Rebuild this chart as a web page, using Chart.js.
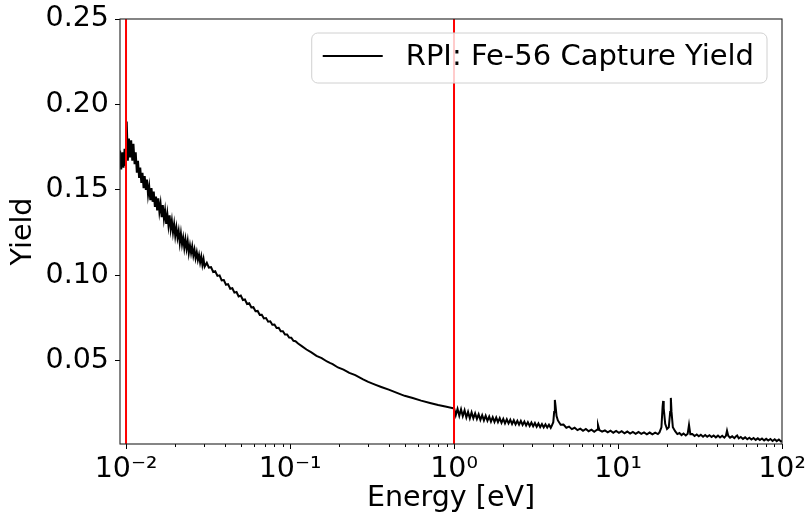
<!DOCTYPE html>
<html><head><meta charset="utf-8">
<script src="https://cdn.jsdelivr.net/npm/chart.js@4"></script>
<style>html,body{margin:0;padding:0;background:#fff}canvas{display:block}</style>
</head><body>
<canvas id="c" width="811" height="516"></canvas>
<script>
// ---- data (energy in eV, capture yield) ----
const energy = [
 0.00920,0.00935,0.00950,0.00965,0.00980,0.00995,0.01010,0.01026,0.01042,0.01058,
 0.01075,0.01092,0.01110,0.01128,0.01146,0.01164,0.01183,0.01202,0.01221,0.01240,
 0.01260,0.01280,0.01300,0.01321,0.01342,0.01363,0.01385,0.01407,0.01430,0.01453,
 0.01476,0.01500,0.01524,0.01548,0.01573,0.01598,0.01624,0.01650,0.01676,0.01703,
 0.01730,0.01758,0.01786,0.01815,0.01844,0.01873,0.01903,0.01934,0.01965,0.01996,
 0.02028,0.02061,0.02094,0.02127,0.02161,0.02196,0.02231,0.02267,0.02303,0.02340,
 0.02377,0.02415,0.02454,0.02493,0.02533,0.02574,0.02615,0.02657,0.02700,0.02743,
 0.02787,0.02831,0.02877,0.02923,0.02970,0.03017,
 0.0311,0.0320,0.0330,0.0340,0.0350,0.0361,0.0372,0.0383,0.0395,0.0407,0.0419,0.0432,
 0.0445,0.0458,0.0472,0.0486,0.0501,0.0516,0.0531,0.0547,0.0564,0.0581,0.0598,0.0616,
 0.0635,0.0654,0.0673,0.0693,0.0714,0.0736,0.0758,0.0780,0.0804,0.0828,0.0853,0.0878,
 0.0905,0.0932,0.0960,0.0988,0.1018,0.1049,0.1080,
 0.112,0.118,0.126,0.135,0.145,0.156,0.168,0.175,0.182,0.196,0.212,0.230,0.250,0.279,
 0.300,0.330,0.360,0.400,0.449,0.500,0.560,0.630,0.714,0.800,0.900,0.986,
 1.000,1.025,1.051,1.077,1.104,1.131,1.160,1.189,1.218,1.249,1.280,1.312,1.345,1.379,
 1.413,1.448,1.485,1.522,1.560,1.599,1.639,1.680,1.722,1.765,1.809,1.854,1.900,1.948,
 1.997,2.046,2.098,2.150,2.204,2.259,2.315,2.373,2.433,2.493,2.556,2.620,2.685,2.752,
 2.821,2.892,2.964,3.038,3.114,3.192,3.272,3.353,3.437,3.523,3.611,3.701,3.794,3.889,
 3.95,4.03,4.08,4.12,4.16,4.22,
 4.30,4.47,4.65,4.84,5.03,5.23,5.44,5.66,5.89,6.12,6.37,6.62,6.89,7.16,7.45,7.55,7.70,
 8.00,8.32,8.66,9.00,9.36,9.74,10.13,10.53,10.95,11.39,11.85,12.32,12.81,13.33,13.86,
 14.41,14.99,15.59,16.21,16.86,17.5,17.9,18.4,18.7,18.85,19.0,19.4,19.9,20.4,20.8,21.0,
 21.2,21.6,
 22.3,23.0,23.7,24.4,25.1,25.9,26.6,27.1,27.6,28.4,29.3,30.2,31.1,32.0,33.0,34.0,35.0,
 36.1,37.2,38.3,39.5,40.7,41.9,43.2,44.5,45.5,46.2,47.0,48.2,49.7,51.2,52.5,53.3,54.5,
 56.1,57.8,59.6,61.4,63.2,65.1,67.1,69.1,71.2,73.3,75.5,77.8,80.1,82.5,85.0,87.6,90.2,
 92.9,95.7,98.6,100
];
const yieldVals = [
 0.173,0.162,0.172,0.163,0.174,0.164,0.190,0.167,0.180,0.169,
 0.179,0.167,0.177,0.165,0.172,0.160,0.167,0.157,0.163,0.154,
 0.160,0.151,0.158,0.150,0.156,0.147,0.152,0.144,0.151,0.143,
 0.149,0.140,0.146,0.138,0.145,0.137,0.142,0.134,0.141,0.133,
 0.138,0.130,0.136,0.129,0.135,0.127,0.132,0.125,0.130,0.123,
 0.128,0.122,0.126,0.119,0.1245,0.118,0.122,0.116,0.121,0.1155,
 0.120,0.113,0.1175,0.113,0.117,0.1115,0.115,0.110,0.1135,0.109,
 0.112,0.1075,0.111,0.106,0.1095,0.105,
 0.1073,0.1045,0.1047,0.1019,0.1023,0.0996,0.0999,0.0970,0.0972,0.0944,0.0948,0.0921,
 0.0924,0.0898,0.0902,0.0876,0.0881,0.0855,0.0858,0.0832,0.0836,0.0811,0.0813,0.0789,
 0.0791,0.0768,0.0769,0.0747,0.0749,0.0728,0.0730,0.0710,0.0711,0.0691,0.0692,0.0672,
 0.0672,0.0653,0.0653,0.0635,0.0634,0.0616,0.0614,
 0.0600,0.0585,0.0565,0.0548,0.0528,0.0515,0.0495,0.0487,0.0480,0.0460,0.0447,0.0428,0.0415,0.0390,
 0.0376,0.0360,0.0346,0.0330,0.0311,0.0294,0.0281,0.0266,0.0252,0.0240,0.0230,0.0222,
 0.0225,0.0181,0.0218,0.0177,0.0215,0.0175,0.0209,0.0167,0.0200,0.0162,0.0197,0.0162,0.0191,0.0159,
 0.0186,0.0153,0.0181,0.0150,0.0178,0.0148,0.0173,0.0143,0.0169,0.0141,0.0167,0.0140,0.0163,0.0136,
 0.0159,0.0133,0.0157,0.0133,0.0154,0.0129,0.0151,0.0127,0.0148,0.0125,0.0147,0.0124,0.0143,0.0120,
 0.0140,0.0118,0.0138,0.0116,0.0135,0.0113,0.0132,0.0111,0.0129,0.0109,0.0127,0.0108,0.0125,0.0107,
 0.0120,0.0140,0.0200,0.0270,0.0235,0.0175,
 0.0150,0.0125,0.0126,0.0107,0.0114,0.0099,0.0107,0.0093,0.0102,0.0089,0.0100,0.0087,0.0096,0.0084,0.0096,0.0124,0.0094,
 0.0084,0.0092,0.0080,0.0090,0.0078,0.0088,0.0077,0.0087,0.0075,0.0085,0.0073,0.0083,0.0072,0.0082,0.0071,
 0.0080,0.0069,0.0079,0.0068,0.0078,0.0070,0.0080,0.0110,0.0230,0.0264,0.0220,0.0130,0.0100,0.0110,0.0200,0.0282,
 0.0200,0.0110,
 0.0087,0.0070,0.0076,0.0064,0.0073,0.0062,0.0072,0.0124,0.0070,0.0071,0.0059,0.0068,0.0057,0.0066,0.0055,0.0065,0.0054,
 0.0063,0.0053,0.0062,0.0051,0.0061,0.0050,0.0060,0.0049,0.0060,0.0090,0.0060,0.0049,0.0057,0.0046,0.0057,0.0062,0.0045,
 0.0053,0.0042,0.0051,0.0040,0.0049,0.0038,0.0047,0.0036,0.0045,0.0035,0.0044,0.0033,0.0042,0.0032,0.0041,0.0030,0.0040,
 0.0029,0.0038,0.0027,0.0031
];
const seriesLabel = 'RPI: Fe-56 Capture Yield';
const markerEnergies = [0.01, 1];
const xMajorTicks = [0.01, 0.1, 1, 10, 100];
const xMajorLabels = ['10\u207B\u00B2', '10\u207B\u00B9', '10\u2070', '10\u00B9', '10\u00B2'];
const xMinorTicks = [0.02,0.03,0.04,0.05,0.06,0.07,0.08,0.09,
                     0.2,0.3,0.4,0.5,0.6,0.7,0.8,0.9,
                     2,3,4,5,6,7,8,9,
                     20,30,40,50,60,70,80,90];
const yTicks = [0.05, 0.10, 0.15, 0.20, 0.25];
const xRange = [0.00919, 100];
const yRange = [0.0012, 0.25];

// ---- chart ----
const FONT = 'DejaVu Sans';
const FS = 28.5;
Chart.defaults.font.family = FONT;
Chart.defaults.font.size = FS;
Chart.defaults.color = '#000';

const mainData = energy.map((e, i) => ({x: e, y: yieldVals[i]}));
const markerSets = markerEnergies.map(e => ({
  label: '_marker',
  data: [{x: e, y: yRange[0]}, {x: e, y: yRange[1]}],
  borderColor: '#ff0000', borderWidth: 2, pointRadius: 0, order: 1
}));

const framePlugin = {
  id: 'frame',
  afterDatasetsDraw(chart) {
    const {ctx, chartArea: a, scales} = chart;
    ctx.save();
    ctx.strokeStyle = '#000'; ctx.lineWidth = 1;
    ctx.beginPath();
    xMinorTicks.forEach(v => {
      const px = Math.round(scales.x.getPixelForValue(v)) + 0.5;
      ctx.moveTo(px, a.bottom); ctx.lineTo(px, a.bottom + 3);
    });
    ctx.stroke();
    ctx.strokeStyle = '#222'; ctx.lineWidth = 1.1;
    ctx.strokeRect(a.left, a.top, a.right - a.left, a.bottom - a.top);
    ctx.restore();
  },
  afterDraw(chart) {
    const {ctx, chartArea: a} = chart;
    ctx.save();
    ctx.font = '29px "' + FONT + '"';
    const tw = ctx.measureText(seriesLabel).width;
    const right = a.right - 15, top = a.top + 14, h = 50;
    const left = right - (tw + 94 + 13);
    const r = 6;
    ctx.beginPath();
    ctx.moveTo(left + r, top);
    ctx.arcTo(right, top, right, top + h, r);
    ctx.arcTo(right, top + h, left, top + h, r);
    ctx.arcTo(left, top + h, left, top, r);
    ctx.arcTo(left, top, right, top, r);
    ctx.closePath();
    ctx.fillStyle = 'rgba(255,255,255,0.8)'; ctx.fill();
    ctx.strokeStyle = '#d0d0d0'; ctx.lineWidth = 1; ctx.stroke();
    const cy = top + 23;
    ctx.strokeStyle = '#000'; ctx.lineWidth = 2;
    ctx.beginPath(); ctx.moveTo(left + 11, cy); ctx.lineTo(left + 71, cy); ctx.stroke();
    ctx.fillStyle = '#000'; ctx.textBaseline = 'middle'; ctx.textAlign = 'left';
    ctx.fillText(seriesLabel, left + 94, cy + 1);
    ctx.restore();
  }
};

new Chart(document.getElementById('c'), {
  type: 'line',
  data: {
    datasets: [
      { label: seriesLabel, data: mainData, borderColor: '#000', borderWidth: 2,
        pointRadius: 0, tension: 0, order: 2 },
      ...markerSets
    ]
  },
  options: {
    responsive: false, animation: false, devicePixelRatio: 1,
    layout: { padding: { top: 19, right: 29, left: 0, bottom: 0 } },
    plugins: { legend: { display: false }, tooltip: { enabled: false } },
    scales: {
      x: {
        type: 'logarithmic', min: xRange[0], max: xRange[1],
        afterBuildTicks(s) {
          s.ticks = xMajorTicks.map(v => ({value: v, major: true}))
            .concat(xMinorTicks.map(v => ({value: v, major: false})))
            .sort((p, q) => p.value - q.value);
        },
        afterFit(s) { s.height = 72; },
        ticks: {
          autoSkip: false, maxRotation: 0, minRotation: 0, padding: 3,
          callback(v) { const i = xMajorTicks.indexOf(v); return i >= 0 ? xMajorLabels[i] : ''; }
        },
        grid: { drawOnChartArea: false, drawTicks: true, tickLength: 5, tickWidth: 1,
                tickColor: c => (c.tick && c.tick.major) ? '#000' : 'rgba(0,0,0,0)' },
        border: { display: false },
        title: { display: true, text: 'Energy [eV]', font: { size: FS }, padding: { top: 0, bottom: 0 } }
      },
      y: {
        type: 'linear', min: yRange[0], max: yRange[1],
        afterBuildTicks(s) { s.ticks = yTicks.map(v => ({value: v})); },
        afterFit(s) { s.width = 120; },
        ticks: { padding: 6, font: { size: FS, lineHeight: 0.8 }, callback: v => v.toFixed(2) },
        grid: { drawOnChartArea: false, drawTicks: true, tickLength: 5, tickColor: '#000' },
        border: { display: false },
        title: { display: true, text: 'Yield', font: { size: FS }, padding: { top: 6, bottom: 0 } }
      }
    }
  },
  plugins: [framePlugin]
});
</script>
</body></html>
